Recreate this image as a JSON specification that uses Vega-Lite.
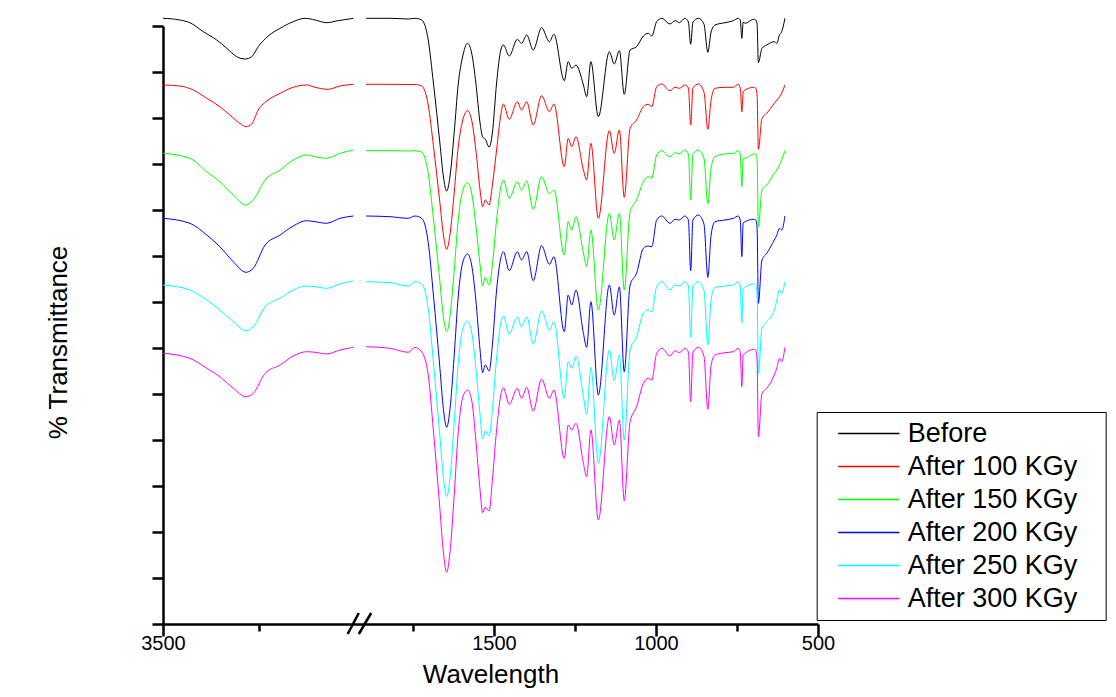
{
"$schema": "https://vega.github.io/schema/vega-lite/v6.json",
"width": 655, "height": 598,
"autosize": "none",
"padding": {"left": 163, "top": 26, "right": 298, "bottom": 73},
"background": "white",
"config": {"view": {"stroke": null}, "font": "Liberation Sans"},
"data": {"values": [
{"series":"Before","wn":3500,"T":605.7},{"series":"Before","wn":3456,"T":604},{"series":"Before","wn":3430,"T":601.3},{"series":"Before","wn":3395,"T":592.3},{"series":"Before","wn":3360,"T":584},{"series":"Before","wn":3334,"T":575.7},{"series":"Before","wn":3308,"T":567.3},{"series":"Before","wn":3286,"T":565},{"series":"Before","wn":3269,"T":567.3},{"series":"Before","wn":3252,"T":577.3},{"series":"Before","wn":3226,"T":588},{"series":"Before","wn":3195,"T":595.7},{"series":"Before","wn":3161,"T":602.3},{"series":"Before","wn":3130,"T":605.7},{"series":"Before","wn":3104,"T":604},{"series":"Before","wn":3074,"T":601.3},{"series":"Before","wn":3044,"T":603.3},{"series":"Before","wn":3004,"T":605.7},
{"series":"Before","wn":1895,"T":605.7},{"series":"Before","wn":1821,"T":605.7},{"series":"Before","wn":1764,"T":605},{"series":"Before","wn":1744,"T":605.7},{"series":"Before","wn":1723,"T":604},{"series":"Before","wn":1703,"T":584},{"series":"Before","wn":1687,"T":541},{"series":"Before","wn":1667,"T":481},{"series":"Before","wn":1656,"T":447},{"series":"Before","wn":1646,"T":433},{"series":"Before","wn":1636,"T":447},{"series":"Before","wn":1623,"T":491},{"series":"Before","wn":1610,"T":541},{"series":"Before","wn":1597,"T":567},{"series":"Before","wn":1582,"T":580.7},{"series":"Before","wn":1569,"T":571},{"series":"Before","wn":1556,"T":541},{"series":"Before","wn":1543,"T":501},{"series":"Before","wn":1535,"T":487},{"series":"Before","wn":1527,"T":485},{"series":"Before","wn":1515,"T":477},{"series":"Before","wn":1505,"T":491},{"series":"Before","wn":1492,"T":541},{"series":"Before","wn":1479,"T":574},{"series":"Before","wn":1471,"T":579},{"series":"Before","wn":1453,"T":568},{"series":"Before","wn":1428,"T":584.7},{"series":"Before","wn":1415,"T":580.7},{"series":"Before","wn":1399,"T":589},{"series":"Before","wn":1379,"T":574},{"series":"Before","wn":1353,"T":596.3},{"series":"Before","wn":1329,"T":582.3},{"series":"Before","wn":1315,"T":589.7},{"series":"Before","wn":1283,"T":543.3},{"series":"Before","wn":1271,"T":562.3},{"series":"Before","wn":1260,"T":555.7},{"series":"Before","wn":1247,"T":559},{"series":"Before","wn":1224,"T":539},{"series":"Before","wn":1214,"T":527.3},{"series":"Before","wn":1201,"T":562.3},{"series":"Before","wn":1178,"T":507.3},{"series":"Before","wn":1144,"T":572.3},{"series":"Before","wn":1129,"T":560},{"series":"Before","wn":1113,"T":573.3},{"series":"Before","wn":1098,"T":529.7},{"series":"Before","wn":1080,"T":574},{"series":"Before","wn":1060,"T":577.3},{"series":"Before","wn":1039,"T":588},{"series":"Before","wn":1024,"T":590.7},{"series":"Before","wn":1013,"T":588},{"series":"Before","wn":998,"T":602.3},{"series":"Before","wn":982,"T":605.7},{"series":"Before","wn":957,"T":600},{"series":"Before","wn":941,"T":603.3},{"series":"Before","wn":928,"T":601.3},{"series":"Before","wn":911,"T":605.7},{"series":"Before","wn":900,"T":602},{"series":"Before","wn":893,"T":579.7},{"series":"Before","wn":886,"T":602},{"series":"Before","wn":869,"T":605.7},{"series":"Before","wn":852,"T":600},{"series":"Before","wn":840,"T":571.7},{"series":"Before","wn":830,"T":592},{"series":"Before","wn":818,"T":599},{"series":"Before","wn":787,"T":601.3},{"series":"Before","wn":761,"T":603.3},{"series":"Before","wn":746,"T":605.7},{"series":"Before","wn":740,"T":604},{"series":"Before","wn":735,"T":585.7},{"series":"Before","wn":731,"T":602},{"series":"Before","wn":725,"T":600.7},{"series":"Before","wn":699,"T":604.7},{"series":"Before","wn":692,"T":604},{"series":"Before","wn":688,"T":600},{"series":"Before","wn":684,"T":561.3},{"series":"Before","wn":673,"T":575.7},{"series":"Before","wn":658,"T":579},{"series":"Before","wn":635,"T":582.3},{"series":"Before","wn":627,"T":580.7},{"series":"Before","wn":619,"T":589},{"series":"Before","wn":612,"T":592.3},{"series":"Before","wn":602,"T":605.7},

{"series":"After 100 KGy","wn":3500,"T":539},{"series":"After 100 KGy","wn":3456,"T":538},{"series":"After 100 KGy","wn":3421,"T":534},{"series":"After 100 KGy","wn":3386,"T":525.7},{"series":"After 100 KGy","wn":3352,"T":517.3},{"series":"After 100 KGy","wn":3326,"T":509},{"series":"After 100 KGy","wn":3300,"T":500.7},{"series":"After 100 KGy","wn":3284,"T":497.3},{"series":"After 100 KGy","wn":3269,"T":500},{"series":"After 100 KGy","wn":3252,"T":514},{"series":"After 100 KGy","wn":3226,"T":524},{"series":"After 100 KGy","wn":3195,"T":530.7},{"series":"After 100 KGy","wn":3161,"T":536.7},{"series":"After 100 KGy","wn":3126,"T":539},{"series":"After 100 KGy","wn":3104,"T":536.7},{"series":"After 100 KGy","wn":3070,"T":534.7},{"series":"After 100 KGy","wn":3039,"T":538},{"series":"After 100 KGy","wn":3004,"T":539.7},
{"series":"After 100 KGy","wn":1895,"T":539.7},{"series":"After 100 KGy","wn":1821,"T":539.7},{"series":"After 100 KGy","wn":1764,"T":539.5},{"series":"After 100 KGy","wn":1744,"T":539.5},{"series":"After 100 KGy","wn":1723,"T":538},{"series":"After 100 KGy","wn":1703,"T":519},{"series":"After 100 KGy","wn":1687,"T":478.2},{"series":"After 100 KGy","wn":1667,"T":421.2},{"series":"After 100 KGy","wn":1656,"T":389},{"series":"After 100 KGy","wn":1646,"T":374.7},{"series":"After 100 KGy","wn":1636,"T":389},{"series":"After 100 KGy","wn":1623,"T":430.7},{"series":"After 100 KGy","wn":1610,"T":478.2},{"series":"After 100 KGy","wn":1597,"T":503},{"series":"After 100 KGy","wn":1582,"T":513.3},{"series":"After 100 KGy","wn":1569,"T":504},{"series":"After 100 KGy","wn":1556,"T":474},{"series":"After 100 KGy","wn":1543,"T":434},{"series":"After 100 KGy","wn":1535,"T":417.3},{"series":"After 100 KGy","wn":1527,"T":424},{"series":"After 100 KGy","wn":1515,"T":419},{"series":"After 100 KGy","wn":1505,"T":439},{"series":"After 100 KGy","wn":1492,"T":474},{"series":"After 100 KGy","wn":1479,"T":509},{"series":"After 100 KGy","wn":1471,"T":520},{"series":"After 100 KGy","wn":1453,"T":504.7},{"series":"After 100 KGy","wn":1428,"T":522.3},{"series":"After 100 KGy","wn":1415,"T":514},{"series":"After 100 KGy","wn":1399,"T":522.3},{"series":"After 100 KGy","wn":1379,"T":499},{"series":"After 100 KGy","wn":1353,"T":528.3},{"series":"After 100 KGy","wn":1329,"T":512.3},{"series":"After 100 KGy","wn":1315,"T":520},{"series":"After 100 KGy","wn":1283,"T":457.3},{"series":"After 100 KGy","wn":1271,"T":485.7},{"series":"After 100 KGy","wn":1260,"T":477.3},{"series":"After 100 KGy","wn":1247,"T":487.3},{"series":"After 100 KGy","wn":1224,"T":454},{"series":"After 100 KGy","wn":1214,"T":444},{"series":"After 100 KGy","wn":1201,"T":480.7},{"series":"After 100 KGy","wn":1178,"T":405.7},{"series":"After 100 KGy","wn":1144,"T":493.3},{"series":"After 100 KGy","wn":1129,"T":470.7},{"series":"After 100 KGy","wn":1113,"T":494},{"series":"After 100 KGy","wn":1098,"T":426.7},{"series":"After 100 KGy","wn":1080,"T":495.7},{"series":"After 100 KGy","wn":1060,"T":504},{"series":"After 100 KGy","wn":1039,"T":517.3},{"series":"After 100 KGy","wn":1024,"T":519.7},{"series":"After 100 KGy","wn":1013,"T":517.3},{"series":"After 100 KGy","wn":998,"T":537.3},{"series":"After 100 KGy","wn":982,"T":540},{"series":"After 100 KGy","wn":957,"T":533.3},{"series":"After 100 KGy","wn":941,"T":536.7},{"series":"After 100 KGy","wn":928,"T":535.7},{"series":"After 100 KGy","wn":911,"T":539},{"series":"After 100 KGy","wn":900,"T":536},{"series":"After 100 KGy","wn":893,"T":499},{"series":"After 100 KGy","wn":886,"T":536},{"series":"After 100 KGy","wn":869,"T":540},{"series":"After 100 KGy","wn":852,"T":532},{"series":"After 100 KGy","wn":840,"T":494.7},{"series":"After 100 KGy","wn":830,"T":524},{"series":"After 100 KGy","wn":818,"T":535.7},{"series":"After 100 KGy","wn":787,"T":536.7},{"series":"After 100 KGy","wn":761,"T":536.7},{"series":"After 100 KGy","wn":746,"T":539.7},{"series":"After 100 KGy","wn":740,"T":536},{"series":"After 100 KGy","wn":735,"T":512.3},{"series":"After 100 KGy","wn":731,"T":532},{"series":"After 100 KGy","wn":725,"T":534},{"series":"After 100 KGy","wn":699,"T":536.7},{"series":"After 100 KGy","wn":692,"T":535.7},{"series":"After 100 KGy","wn":688,"T":529},{"series":"After 100 KGy","wn":684,"T":474.7},{"series":"After 100 KGy","wn":673,"T":505.7},{"series":"After 100 KGy","wn":658,"T":510.7},{"series":"After 100 KGy","wn":635,"T":520.7},{"series":"After 100 KGy","wn":627,"T":524},{"series":"After 100 KGy","wn":619,"T":527},{"series":"After 100 KGy","wn":612,"T":531},{"series":"After 100 KGy","wn":602,"T":539},

{"series":"After 150 KGy","wn":3500,"T":470.7},{"series":"After 150 KGy","wn":3430,"T":465.7},{"series":"After 150 KGy","wn":3386,"T":452.3},{"series":"After 150 KGy","wn":3352,"T":442.3},{"series":"After 150 KGy","wn":3317,"T":429},{"series":"After 150 KGy","wn":3284,"T":419},{"series":"After 150 KGy","wn":3265,"T":424},{"series":"After 150 KGy","wn":3234,"T":444},{"series":"After 150 KGy","wn":3195,"T":454},{"series":"After 150 KGy","wn":3161,"T":464},{"series":"After 150 KGy","wn":3126,"T":469},{"series":"After 150 KGy","wn":3104,"T":467.3},{"series":"After 150 KGy","wn":3074,"T":465.7},{"series":"After 150 KGy","wn":3039,"T":470.7},{"series":"After 150 KGy","wn":3004,"T":474},
{"series":"After 150 KGy","wn":1895,"T":473.3},{"series":"After 150 KGy","wn":1821,"T":473.3},{"series":"After 150 KGy","wn":1764,"T":473},{"series":"After 150 KGy","wn":1744,"T":473.3},{"series":"After 150 KGy","wn":1723,"T":472},{"series":"After 150 KGy","wn":1703,"T":450.5},{"series":"After 150 KGy","wn":1687,"T":405.4},{"series":"After 150 KGy","wn":1667,"T":342.4},{"series":"After 150 KGy","wn":1656,"T":306.7},{"series":"After 150 KGy","wn":1646,"T":292.3},{"series":"After 150 KGy","wn":1636,"T":307},{"series":"After 150 KGy","wn":1623,"T":353},{"series":"After 150 KGy","wn":1610,"T":405.4},{"series":"After 150 KGy","wn":1597,"T":432.7},{"series":"After 150 KGy","wn":1582,"T":441.3},{"series":"After 150 KGy","wn":1569,"T":431},{"series":"After 150 KGy","wn":1556,"T":399},{"series":"After 150 KGy","wn":1543,"T":359},{"series":"After 150 KGy","wn":1535,"T":338},{"series":"After 150 KGy","wn":1527,"T":346.7},{"series":"After 150 KGy","wn":1515,"T":339},{"series":"After 150 KGy","wn":1505,"T":359},{"series":"After 150 KGy","wn":1492,"T":404},{"series":"After 150 KGy","wn":1479,"T":437},{"series":"After 150 KGy","wn":1471,"T":444},{"series":"After 150 KGy","wn":1453,"T":425.7},{"series":"After 150 KGy","wn":1428,"T":442.3},{"series":"After 150 KGy","wn":1415,"T":434},{"series":"After 150 KGy","wn":1399,"T":443},{"series":"After 150 KGy","wn":1379,"T":414.7},{"series":"After 150 KGy","wn":1353,"T":447.3},{"series":"After 150 KGy","wn":1329,"T":430.7},{"series":"After 150 KGy","wn":1315,"T":434},{"series":"After 150 KGy","wn":1283,"T":369},{"series":"After 150 KGy","wn":1271,"T":402.3},{"series":"After 150 KGy","wn":1260,"T":394},{"series":"After 150 KGy","wn":1247,"T":407.3},{"series":"After 150 KGy","wn":1224,"T":371},{"series":"After 150 KGy","wn":1214,"T":357.3},{"series":"After 150 KGy","wn":1201,"T":394},{"series":"After 150 KGy","wn":1178,"T":314},{"series":"After 150 KGy","wn":1144,"T":410.7},{"series":"After 150 KGy","wn":1129,"T":384},{"series":"After 150 KGy","wn":1113,"T":410.7},{"series":"After 150 KGy","wn":1098,"T":334},{"series":"After 150 KGy","wn":1080,"T":412.3},{"series":"After 150 KGy","wn":1060,"T":424},{"series":"After 150 KGy","wn":1039,"T":442.3},{"series":"After 150 KGy","wn":1024,"T":447.3},{"series":"After 150 KGy","wn":1013,"T":445.7},{"series":"After 150 KGy","wn":998,"T":469},{"series":"After 150 KGy","wn":982,"T":473.3},{"series":"After 150 KGy","wn":957,"T":467.3},{"series":"After 150 KGy","wn":941,"T":471.3},{"series":"After 150 KGy","wn":928,"T":470},{"series":"After 150 KGy","wn":911,"T":474},{"series":"After 150 KGy","wn":900,"T":470},{"series":"After 150 KGy","wn":893,"T":424},{"series":"After 150 KGy","wn":886,"T":470},{"series":"After 150 KGy","wn":869,"T":474},{"series":"After 150 KGy","wn":852,"T":466},{"series":"After 150 KGy","wn":840,"T":420},{"series":"After 150 KGy","wn":830,"T":456},{"series":"After 150 KGy","wn":818,"T":467.3},{"series":"After 150 KGy","wn":787,"T":470},{"series":"After 150 KGy","wn":761,"T":470.7},{"series":"After 150 KGy","wn":746,"T":473.3},{"series":"After 150 KGy","wn":740,"T":470},{"series":"After 150 KGy","wn":735,"T":437.3},{"series":"After 150 KGy","wn":731,"T":466},{"series":"After 150 KGy","wn":725,"T":465.7},{"series":"After 150 KGy","wn":699,"T":470},{"series":"After 150 KGy","wn":692,"T":470},{"series":"After 150 KGy","wn":688,"T":464},{"series":"After 150 KGy","wn":684,"T":397.3},{"series":"After 150 KGy","wn":673,"T":434},{"series":"After 150 KGy","wn":658,"T":439},{"series":"After 150 KGy","wn":635,"T":450.7},{"series":"After 150 KGy","wn":627,"T":454},{"series":"After 150 KGy","wn":619,"T":459},{"series":"After 150 KGy","wn":612,"T":464},{"series":"After 150 KGy","wn":602,"T":473.3},

{"series":"After 200 KGy","wn":3500,"T":405.7},{"series":"After 200 KGy","wn":3430,"T":400.7},{"series":"After 200 KGy","wn":3386,"T":389},{"series":"After 200 KGy","wn":3352,"T":377.3},{"series":"After 200 KGy","wn":3317,"T":362.3},{"series":"After 200 KGy","wn":3284,"T":351.7},{"series":"After 200 KGy","wn":3265,"T":355.7},{"series":"After 200 KGy","wn":3234,"T":379},{"series":"After 200 KGy","wn":3195,"T":389},{"series":"After 200 KGy","wn":3161,"T":398},{"series":"After 200 KGy","wn":3126,"T":403.3},{"series":"After 200 KGy","wn":3104,"T":402.3},{"series":"After 200 KGy","wn":3074,"T":400.7},{"series":"After 200 KGy","wn":3039,"T":405.7},{"series":"After 200 KGy","wn":3004,"T":408},
{"series":"After 200 KGy","wn":1895,"T":408},{"series":"After 200 KGy","wn":1821,"T":407.3},{"series":"After 200 KGy","wn":1764,"T":405.7},{"series":"After 200 KGy","wn":1744,"T":408},{"series":"After 200 KGy","wn":1723,"T":405.7},{"series":"After 200 KGy","wn":1703,"T":381.5},{"series":"After 200 KGy","wn":1687,"T":329},{"series":"After 200 KGy","wn":1667,"T":256},{"series":"After 200 KGy","wn":1656,"T":214.4},{"series":"After 200 KGy","wn":1646,"T":196.7},{"series":"After 200 KGy","wn":1636,"T":214.4},{"series":"After 200 KGy","wn":1623,"T":268},{"series":"After 200 KGy","wn":1610,"T":329},{"series":"After 200 KGy","wn":1597,"T":361},{"series":"After 200 KGy","wn":1582,"T":370},{"series":"After 200 KGy","wn":1569,"T":359},{"series":"After 200 KGy","wn":1556,"T":324},{"series":"After 200 KGy","wn":1543,"T":274},{"series":"After 200 KGy","wn":1535,"T":251.3},{"series":"After 200 KGy","wn":1527,"T":259},{"series":"After 200 KGy","wn":1515,"T":253},{"series":"After 200 KGy","wn":1505,"T":279},{"series":"After 200 KGy","wn":1492,"T":334},{"series":"After 200 KGy","wn":1479,"T":366},{"series":"After 200 KGy","wn":1471,"T":372.3},{"series":"After 200 KGy","wn":1453,"T":353.3},{"series":"After 200 KGy","wn":1428,"T":372.3},{"series":"After 200 KGy","wn":1415,"T":364},{"series":"After 200 KGy","wn":1399,"T":372.3},{"series":"After 200 KGy","wn":1379,"T":343.3},{"series":"After 200 KGy","wn":1353,"T":378.3},{"series":"After 200 KGy","wn":1329,"T":359.7},{"series":"After 200 KGy","wn":1315,"T":367.3},{"series":"After 200 KGy","wn":1283,"T":292.3},{"series":"After 200 KGy","wn":1271,"T":329},{"series":"After 200 KGy","wn":1260,"T":319},{"series":"After 200 KGy","wn":1247,"T":334},{"series":"After 200 KGy","wn":1224,"T":290.7},{"series":"After 200 KGy","wn":1214,"T":276.7},{"series":"After 200 KGy","wn":1201,"T":322.3},{"series":"After 200 KGy","wn":1178,"T":229},{"series":"After 200 KGy","wn":1144,"T":339},{"series":"After 200 KGy","wn":1129,"T":309},{"series":"After 200 KGy","wn":1113,"T":337},{"series":"After 200 KGy","wn":1098,"T":252.3},{"series":"After 200 KGy","wn":1080,"T":339},{"series":"After 200 KGy","wn":1060,"T":350.7},{"series":"After 200 KGy","wn":1039,"T":375.7},{"series":"After 200 KGy","wn":1024,"T":378},{"series":"After 200 KGy","wn":1013,"T":377.3},{"series":"After 200 KGy","wn":998,"T":404},{"series":"After 200 KGy","wn":982,"T":408},{"series":"After 200 KGy","wn":957,"T":400.7},{"series":"After 200 KGy","wn":941,"T":404.7},{"series":"After 200 KGy","wn":928,"T":404},{"series":"After 200 KGy","wn":911,"T":408},{"series":"After 200 KGy","wn":900,"T":404},{"series":"After 200 KGy","wn":893,"T":353.3},{"series":"After 200 KGy","wn":886,"T":404},{"series":"After 200 KGy","wn":869,"T":409},{"series":"After 200 KGy","wn":852,"T":400},{"series":"After 200 KGy","wn":840,"T":346.7},{"series":"After 200 KGy","wn":830,"T":389},{"series":"After 200 KGy","wn":818,"T":402.3},{"series":"After 200 KGy","wn":787,"T":404},{"series":"After 200 KGy","wn":761,"T":405.7},{"series":"After 200 KGy","wn":746,"T":408},{"series":"After 200 KGy","wn":740,"T":404},{"series":"After 200 KGy","wn":735,"T":367.3},{"series":"After 200 KGy","wn":731,"T":401},{"series":"After 200 KGy","wn":725,"T":402.3},{"series":"After 200 KGy","wn":699,"T":404.7},{"series":"After 200 KGy","wn":692,"T":404},{"series":"After 200 KGy","wn":688,"T":396},{"series":"After 200 KGy","wn":684,"T":320.7},{"series":"After 200 KGy","wn":673,"T":364},{"series":"After 200 KGy","wn":658,"T":370.7},{"series":"After 200 KGy","wn":635,"T":384},{"series":"After 200 KGy","wn":627,"T":389},{"series":"After 200 KGy","wn":619,"T":395.7},{"series":"After 200 KGy","wn":612,"T":394},{"series":"After 200 KGy","wn":602,"T":408},

{"series":"After 250 KGy","wn":3500,"T":339},{"series":"After 250 KGy","wn":3430,"T":334},{"series":"After 250 KGy","wn":3386,"T":324},{"series":"After 250 KGy","wn":3352,"T":314},{"series":"After 250 KGy","wn":3317,"T":302.3},{"series":"After 250 KGy","wn":3284,"T":293.3},{"series":"After 250 KGy","wn":3265,"T":297.3},{"series":"After 250 KGy","wn":3234,"T":317.3},{"series":"After 250 KGy","wn":3195,"T":325.7},{"series":"After 250 KGy","wn":3161,"T":334},{"series":"After 250 KGy","wn":3126,"T":338},{"series":"After 250 KGy","wn":3104,"T":337.3},{"series":"After 250 KGy","wn":3074,"T":335.7},{"series":"After 250 KGy","wn":3039,"T":340},{"series":"After 250 KGy","wn":3004,"T":343},
{"series":"After 250 KGy","wn":1895,"T":342.3},{"series":"After 250 KGy","wn":1821,"T":341.3},{"series":"After 250 KGy","wn":1764,"T":338},{"series":"After 250 KGy","wn":1744,"T":342.3},{"series":"After 250 KGy","wn":1723,"T":340},{"series":"After 250 KGy","wn":1703,"T":315.4},{"series":"After 250 KGy","wn":1687,"T":262},{"series":"After 250 KGy","wn":1667,"T":187.7},{"series":"After 250 KGy","wn":1656,"T":145.5},{"series":"After 250 KGy","wn":1646,"T":127.3},{"series":"After 250 KGy","wn":1636,"T":145.5},{"series":"After 250 KGy","wn":1623,"T":200},{"series":"After 250 KGy","wn":1610,"T":262},{"series":"After 250 KGy","wn":1597,"T":294.3},{"series":"After 250 KGy","wn":1582,"T":303},{"series":"After 250 KGy","wn":1569,"T":292},{"series":"After 250 KGy","wn":1556,"T":256},{"series":"After 250 KGy","wn":1543,"T":209},{"series":"After 250 KGy","wn":1535,"T":185},{"series":"After 250 KGy","wn":1527,"T":193.3},{"series":"After 250 KGy","wn":1515,"T":188},{"series":"After 250 KGy","wn":1505,"T":214},{"series":"After 250 KGy","wn":1492,"T":266},{"series":"After 250 KGy","wn":1479,"T":301},{"series":"After 250 KGy","wn":1471,"T":308},{"series":"After 250 KGy","wn":1453,"T":290},{"series":"After 250 KGy","wn":1428,"T":307.3},{"series":"After 250 KGy","wn":1415,"T":297.3},{"series":"After 250 KGy","wn":1399,"T":307.3},{"series":"After 250 KGy","wn":1379,"T":280},{"series":"After 250 KGy","wn":1353,"T":313.3},{"series":"After 250 KGy","wn":1329,"T":294},{"series":"After 250 KGy","wn":1315,"T":302.3},{"series":"After 250 KGy","wn":1283,"T":225.7},{"series":"After 250 KGy","wn":1271,"T":262.3},{"series":"After 250 KGy","wn":1260,"T":255.7},{"series":"After 250 KGy","wn":1247,"T":268},{"series":"After 250 KGy","wn":1224,"T":227.3},{"series":"After 250 KGy","wn":1214,"T":209.7},{"series":"After 250 KGy","wn":1201,"T":256.7},{"series":"After 250 KGy","wn":1178,"T":160.7},{"series":"After 250 KGy","wn":1144,"T":274},{"series":"After 250 KGy","wn":1129,"T":243.3},{"series":"After 250 KGy","wn":1113,"T":269},{"series":"After 250 KGy","wn":1098,"T":184},{"series":"After 250 KGy","wn":1080,"T":274},{"series":"After 250 KGy","wn":1060,"T":287.3},{"series":"After 250 KGy","wn":1039,"T":310.7},{"series":"After 250 KGy","wn":1024,"T":314},{"series":"After 250 KGy","wn":1013,"T":312.3},{"series":"After 250 KGy","wn":998,"T":337.3},{"series":"After 250 KGy","wn":982,"T":342.3},{"series":"After 250 KGy","wn":957,"T":334},{"series":"After 250 KGy","wn":941,"T":339},{"series":"After 250 KGy","wn":928,"T":338},{"series":"After 250 KGy","wn":911,"T":342.3},{"series":"After 250 KGy","wn":900,"T":338},{"series":"After 250 KGy","wn":893,"T":286.7},{"series":"After 250 KGy","wn":886,"T":338},{"series":"After 250 KGy","wn":869,"T":342.3},{"series":"After 250 KGy","wn":852,"T":334},{"series":"After 250 KGy","wn":840,"T":279},{"series":"After 250 KGy","wn":830,"T":324},{"series":"After 250 KGy","wn":818,"T":336.7},{"series":"After 250 KGy","wn":787,"T":338},{"series":"After 250 KGy","wn":761,"T":339},{"series":"After 250 KGy","wn":746,"T":342.3},{"series":"After 250 KGy","wn":740,"T":338},{"series":"After 250 KGy","wn":735,"T":301.3},{"series":"After 250 KGy","wn":731,"T":335},{"series":"After 250 KGy","wn":725,"T":336.7},{"series":"After 250 KGy","wn":699,"T":340},{"series":"After 250 KGy","wn":692,"T":339},{"series":"After 250 KGy","wn":688,"T":329},{"series":"After 250 KGy","wn":684,"T":250.7},{"series":"After 250 KGy","wn":673,"T":295.7},{"series":"After 250 KGy","wn":658,"T":302.3},{"series":"After 250 KGy","wn":635,"T":314},{"series":"After 250 KGy","wn":627,"T":324},{"series":"After 250 KGy","wn":619,"T":334},{"series":"After 250 KGy","wn":612,"T":330.7},{"series":"After 250 KGy","wn":602,"T":342.3},

{"series":"After 300 KGy","wn":3500,"T":270.7},{"series":"After 300 KGy","wn":3430,"T":265.7},{"series":"After 300 KGy","wn":3386,"T":255.7},{"series":"After 300 KGy","wn":3352,"T":247.3},{"series":"After 300 KGy","wn":3317,"T":235.7},{"series":"After 300 KGy","wn":3284,"T":227.3},{"series":"After 300 KGy","wn":3265,"T":230.7},{"series":"After 300 KGy","wn":3234,"T":250.7},{"series":"After 300 KGy","wn":3195,"T":259},{"series":"After 300 KGy","wn":3161,"T":268},{"series":"After 300 KGy","wn":3126,"T":272.3},{"series":"After 300 KGy","wn":3104,"T":271.7},{"series":"After 300 KGy","wn":3074,"T":270},{"series":"After 300 KGy","wn":3039,"T":274},{"series":"After 300 KGy","wn":3004,"T":276.7},
{"series":"After 300 KGy","wn":1895,"T":277.3},{"series":"After 300 KGy","wn":1821,"T":275.7},{"series":"After 300 KGy","wn":1764,"T":271.7},{"series":"After 300 KGy","wn":1744,"T":276.7},{"series":"After 300 KGy","wn":1723,"T":272},{"series":"After 300 KGy","wn":1703,"T":249},{"series":"After 300 KGy","wn":1687,"T":193.2},{"series":"After 300 KGy","wn":1667,"T":115.2},{"series":"After 300 KGy","wn":1656,"T":71},{"series":"After 300 KGy","wn":1646,"T":51.7},{"series":"After 300 KGy","wn":1636,"T":71},{"series":"After 300 KGy","wn":1623,"T":128.2},{"series":"After 300 KGy","wn":1610,"T":193.2},{"series":"After 300 KGy","wn":1597,"T":226},{"series":"After 300 KGy","wn":1582,"T":234},{"series":"After 300 KGy","wn":1569,"T":224},{"series":"After 300 KGy","wn":1556,"T":184},{"series":"After 300 KGy","wn":1543,"T":134},{"series":"After 300 KGy","wn":1535,"T":111.3},{"series":"After 300 KGy","wn":1527,"T":116.7},{"series":"After 300 KGy","wn":1515,"T":113},{"series":"After 300 KGy","wn":1505,"T":144},{"series":"After 300 KGy","wn":1492,"T":194},{"series":"After 300 KGy","wn":1479,"T":229},{"series":"After 300 KGy","wn":1471,"T":236.3},{"series":"After 300 KGy","wn":1453,"T":219.7},{"series":"After 300 KGy","wn":1428,"T":235.7},{"series":"After 300 KGy","wn":1415,"T":225.7},{"series":"After 300 KGy","wn":1399,"T":236.7},{"series":"After 300 KGy","wn":1379,"T":213},{"series":"After 300 KGy","wn":1353,"T":245},{"series":"After 300 KGy","wn":1329,"T":225.7},{"series":"After 300 KGy","wn":1315,"T":234},{"series":"After 300 KGy","wn":1283,"T":165.7},{"series":"After 300 KGy","wn":1271,"T":199},{"series":"After 300 KGy","wn":1260,"T":194},{"series":"After 300 KGy","wn":1247,"T":200.7},{"series":"After 300 KGy","wn":1224,"T":160.7},{"series":"After 300 KGy","wn":1214,"T":147.3},{"series":"After 300 KGy","wn":1201,"T":194},{"series":"After 300 KGy","wn":1178,"T":104},{"series":"After 300 KGy","wn":1144,"T":207.3},{"series":"After 300 KGy","wn":1129,"T":179},{"series":"After 300 KGy","wn":1113,"T":204},{"series":"After 300 KGy","wn":1098,"T":123.3},{"series":"After 300 KGy","wn":1080,"T":202.3},{"series":"After 300 KGy","wn":1060,"T":217.3},{"series":"After 300 KGy","wn":1039,"T":240.7},{"series":"After 300 KGy","wn":1024,"T":245.7},{"series":"After 300 KGy","wn":1013,"T":244},{"series":"After 300 KGy","wn":998,"T":270.7},{"series":"After 300 KGy","wn":982,"T":275.7},{"series":"After 300 KGy","wn":957,"T":268},{"series":"After 300 KGy","wn":941,"T":273.3},{"series":"After 300 KGy","wn":928,"T":271.3},{"series":"After 300 KGy","wn":911,"T":275.7},{"series":"After 300 KGy","wn":900,"T":272},{"series":"After 300 KGy","wn":893,"T":222.3},{"series":"After 300 KGy","wn":886,"T":272},{"series":"After 300 KGy","wn":869,"T":276.7},{"series":"After 300 KGy","wn":852,"T":268},{"series":"After 300 KGy","wn":840,"T":214.7},{"series":"After 300 KGy","wn":830,"T":259},{"series":"After 300 KGy","wn":818,"T":269},{"series":"After 300 KGy","wn":787,"T":271.3},{"series":"After 300 KGy","wn":761,"T":272.3},{"series":"After 300 KGy","wn":746,"T":275.7},{"series":"After 300 KGy","wn":740,"T":272},{"series":"After 300 KGy","wn":735,"T":237.3},{"series":"After 300 KGy","wn":731,"T":269},{"series":"After 300 KGy","wn":725,"T":270.7},{"series":"After 300 KGy","wn":699,"T":274.7},{"series":"After 300 KGy","wn":692,"T":274},{"series":"After 300 KGy","wn":688,"T":264},{"series":"After 300 KGy","wn":684,"T":187.3},{"series":"After 300 KGy","wn":673,"T":230.7},{"series":"After 300 KGy","wn":658,"T":235.7},{"series":"After 300 KGy","wn":635,"T":249},{"series":"After 300 KGy","wn":627,"T":256},{"series":"After 300 KGy","wn":619,"T":265.7},{"series":"After 300 KGy","wn":612,"T":262.3},{"series":"After 300 KGy","wn":602,"T":276.7}
]},
"layer": [
  {"transform": [{"filter": "datum.wn > 2500"}], "mark": {"type": "line", "strokeWidth": 1, "interpolate": "monotone"},
   "encoding": {
    "x": {"field": "wn", "type": "quantitative", "title": "Wavelength",
      "scale": {"domain": [3500, 3000, 1900, 500], "range": [0, 192, 201.4, 655], "nice": false, "zero": false},
      "axis": {"values": [3500, 3250, 1750, 1500, 1250, 1000, 750, 500], "format": "d",
        "labelExpr": "datum.value % 500 === 0 ? datum.label : ''",
        "titleFont": "Liberation Sans", "titleFontSize": 26, "titleFontWeight": "normal", "titleColor": "black", "titlePadding": 8,
        "labelFont": "Liberation Sans", "labelFontSize": 20, "labelColor": "black", "labelPadding": -3, "labelFlush": false, "labelOverlap": false,
        "domainColor": "black", "domainWidth": 2.5, "tickColor": "black", "tickWidth": 2.5,
        "tickSize": {"condition": {"test": "datum.value % 500 === 0", "value": 12}, "value": 7},
        "grid": false}},
    "y": {"field": "T", "type": "quantitative", "title": "% Transmittance",
      "scale": {"domain": [0, 598], "nice": false, "zero": false},
      "axis": {"values": [0, 46, 92, 138, 184, 230, 276, 322, 368, 414, 460, 506, 552, 598], "labels": false,
        "tickSize": 11, "tickWidth": 2.5, "tickColor": "black", "domainColor": "black", "domainWidth": 2.5, "grid": false,
        "titleFont": "Liberation Sans", "titleFontSize": 26, "titleFontWeight": "normal", "titleColor": "black",
        "titleX": -105, "titleY": 316, "titleAngle": -90, "titleAlign": "center", "titleBaseline": "middle"}},
    "color": {"field": "series", "type": "nominal",
      "scale": {"domain": ["Before", "After 100 KGy", "After 150 KGy", "After 200 KGy", "After 250 KGy", "After 300 KGy"],
                "range": ["#000000", "#ff0000", "#00ff00", "#0000ff", "#00ffff", "#ff00ff"]},
      "legend": {"orient": "none", "legendX": 653.7, "legendY": 386, "title": null,
        "strokeColor": "black", "fillColor": "white", "padding": 8,
        "symbolType": "M0,0H10.2", "symbolSize": 144, "symbolStrokeWidth": 1.3,
        "labelFont": "Liberation Sans", "labelFontSize": 27, "labelColor": "black", "labelOffset": 56, "labelLimit": 400,
        "rowPadding": 5, "labelExpr": "datum.label + '\u2800'"}}}},
  {"transform": [{"filter": "datum.wn < 2500"}], "mark": {"type": "line", "strokeWidth": 1, "interpolate": "monotone"},
   "encoding": {
    "x": {"field": "wn", "type": "quantitative", "title": "Wavelength"},
    "y": {"field": "T", "type": "quantitative", "title": "% Transmittance"},
    "color": {"field": "series", "type": "nominal"}}},
  {"data": {"values": [{}]},
   "mark": {"type": "rule", "stroke": "black", "strokeWidth": 2.5},
   "encoding": {"x": {"datum": 3019, "type": "quantitative", "title": "Wavelength"}, "x2": {"datum": 2555}, "y": {"datum": -10, "type": "quantitative", "title": "% Transmittance"}, "y2": {"datum": 11}}},
  {"data": {"values": [{}]},
   "mark": {"type": "rule", "stroke": "black", "strokeWidth": 2.5},
   "encoding": {"x": {"datum": 2555, "type": "quantitative", "title": "Wavelength"}, "x2": {"datum": 1879}, "y": {"datum": -10, "type": "quantitative", "title": "% Transmittance"}, "y2": {"datum": 11}}}
]
}
